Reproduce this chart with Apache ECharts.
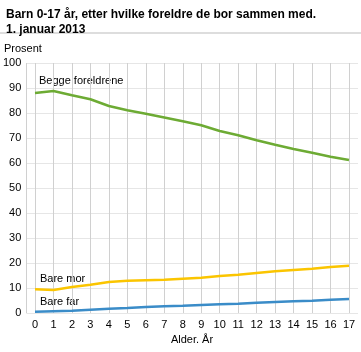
<!DOCTYPE html>
<html lang="no">
  <head>
    <meta charset="UTF-8" />
    <title>Barn 0-17 år</title>
    <script src="https://cdn.jsdelivr.net/npm/echarts@6/dist/echarts.min.js"></script>
    <style>
      body { margin: 0; background: #fff; }
    </style>
  </head>
  <body>
    <div id="chart" style="width: 361px; height: 352px"></div>

    <script>
      // alder 0-17
      var ages = [0, 1, 2, 3, 4, 5, 6, 7, 8, 9, 10, 11, 12, 13, 14, 15, 16, 17];
      var beggeForeldrene = [88.0, 88.8, 87.1, 85.5, 82.8, 81.1, 79.7, 78.2, 76.7, 75.1, 72.8, 71.1, 69.1, 67.3, 65.6, 64.1, 62.5, 61.2];
      var bareMor = [9.5, 9.2, 10.4, 11.3, 12.4, 12.9, 13.1, 13.3, 13.7, 14.1, 14.8, 15.3, 16.0, 16.7, 17.2, 17.7, 18.4, 18.9];
      var bareFar = [0.5, 0.7, 0.9, 1.3, 1.7, 2.0, 2.4, 2.7, 2.9, 3.2, 3.5, 3.7, 4.1, 4.4, 4.7, 4.9, 5.3, 5.6];

      function pairs(values) {
        return values.map(function (v, i) {
          return [ages[i], v];
        });
      }

      var myChart = echarts.init(document.getElementById("chart"));
      var font = "Liberation Sans, Arial, sans-serif";
      var vLineColor = "#d0d0d0";
      var hLineColor = "#e6e6e6";

      var option = {
        animation: false,
        textStyle: { fontFamily: font },
        title: {
          text: "Barn 0-17 år, etter hvilke foreldre de bor sammen med.\n1. januar 2013",
          left: 1,
          top: 2,
          textStyle: { fontSize: 12, fontWeight: "bold", color: "#000", lineHeight: 15, fontFamily: font },
        },
        graphic: [
          { type: "line", shape: { x1: 0, y1: 33, x2: 361, y2: 33 }, style: { stroke: "#bbb", lineWidth: 1 } },
          { type: "text", left: 4, top: 43, style: { text: "Prosent", fontSize: 11, fill: "#000", fontFamily: font } },
          { type: "text", left: 39, top: 75, style: { text: "Begge foreldrene", fontSize: 11, fill: "#000", fontFamily: font } },
          { type: "text", left: 40, top: 273, style: { text: "Bare mor", fontSize: 11, fill: "#000", fontFamily: font } },
          { type: "text", left: 40, top: 296, style: { text: "Bare far", fontSize: 11, fill: "#000", fontFamily: font } },
        ],
        // grid 0: bakgrunn med vannrette linjer, grid 1: dataområdet
        grid: [
          { left: 26, right: 3, top: 63, bottom: 39 },
          { left: 35, right: 12, top: 63, bottom: 39 },
        ],
        xAxis: [
          {
            gridIndex: 0,
            type: "value",
            min: 0,
            max: 1,
            interval: 1,
            axisLine: { show: false },
            axisTick: { show: false },
            axisLabel: { show: false },
            splitLine: { show: true, showMaxLine: false, lineStyle: { color: vLineColor } },
          },
          {
            gridIndex: 1,
            type: "value",
            min: 0,
            max: 17,
            interval: 1,
            name: "Alder. År",
            nameLocation: "middle",
            nameGap: 17,
            nameTextStyle: { fontSize: 11, color: "#000" },
            axisLine: { show: false },
            axisTick: { show: false },
            axisLabel: { fontSize: 11, color: "#000", margin: 6 },
            splitLine: { show: true, lineStyle: { color: vLineColor, width: 1 } },
          },
        ],
        yAxis: [
          {
            gridIndex: 0,
            type: "value",
            min: 0,
            max: 100,
            interval: 10,
            axisLine: { show: false },
            axisTick: { show: false },
            axisLabel: { fontSize: 11, color: "#000", margin: 5 },
            splitLine: { show: true, lineStyle: { color: hLineColor } },
          },
          {
            gridIndex: 1,
            type: "value",
            min: 0,
            max: 100,
            interval: 10,
            axisLine: { show: false },
            axisTick: { show: false },
            axisLabel: { show: false },
            splitLine: { show: false },
          },
        ],
        series: [
          {
            name: "Begge foreldrene",
            type: "line",
            xAxisIndex: 1,
            yAxisIndex: 1,
            data: pairs(beggeForeldrene),
            showSymbol: false,
            lineStyle: { color: "#6dab34", width: 2.5 },
          },
          {
            name: "Bare mor",
            type: "line",
            xAxisIndex: 1,
            yAxisIndex: 1,
            data: pairs(bareMor),
            showSymbol: false,
            lineStyle: { color: "#fbc500", width: 2.5 },
          },
          {
            name: "Bare far",
            type: "line",
            xAxisIndex: 1,
            yAxisIndex: 1,
            data: pairs(bareFar),
            showSymbol: false,
            lineStyle: { color: "#3a8cc8", width: 2.5 },
          },
        ],
      };

      myChart.setOption(option);
    </script>
  </body>
</html>
